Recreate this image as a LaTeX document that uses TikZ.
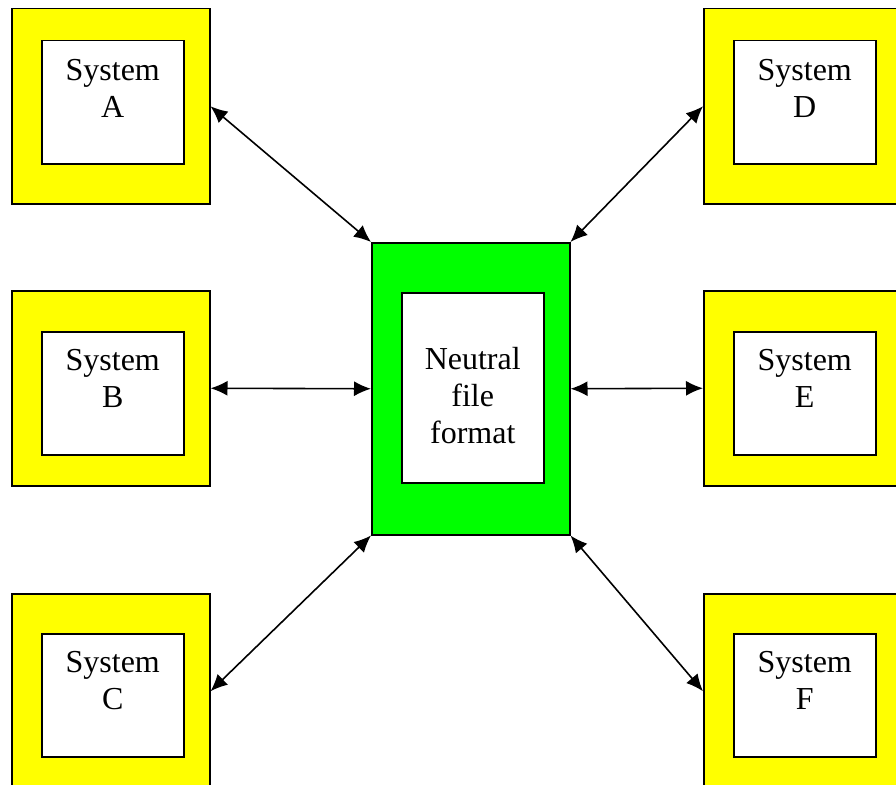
\documentclass[tikz,border=0pt]{standalone}
\usepackage{fontspec}
\setmainfont{Liberation Serif}
\usetikzlibrary{positioning,arrows.meta}
\definecolor{sysyellow}{RGB}{255,255,0}
\definecolor{hubgreen}{RGB}{0,255,0}

\begin{document}
\begin{tikzpicture}[
		x=1pt, y=-1pt,
		outerbox/.style={draw, line width=1.5pt, fill=sysyellow, minimum width=198pt, minimum height=195pt, inner sep=0pt, anchor=north west},
		innerbox/.style={draw, line width=1.5pt, fill=white, minimum width=142pt, minimum height=123pt, inner sep=0pt},
		hubbox/.style={draw, line width=1.5pt, fill=hubgreen, minimum width=198pt, minimum height=292pt, inner sep=0pt, anchor=north west},
		caption/.style={inner sep=0pt, align=center, font=\fontsize{32pt}{37pt}\selectfont},
		arrow/.style={{Latex[length=17pt,width=15pt]}-{Latex[length=17pt,width=15pt]}, line width=1.6pt}
		]
		
		\clip (0,0) rectangle (896,784);
		
		% left column
		\node[outerbox] (sysA) at (11,8) {};
		\node[innerbox, below right=32pt and 30pt of sysA.north west] (sysAin) {};
		\node[caption, below=19pt of sysAin.north] (txtA) {System\\A};
		
		\node[outerbox] (sysB) at (11,290) {};
		\node[innerbox, below right=41pt and 30pt of sysB.north west] (sysBin) {};
		\node[caption, below=18pt of sysBin.north] (txtB) {System\\B};
		
		\node[outerbox] (sysC) at (11,593) {};
		\node[innerbox, below right=40pt and 30pt of sysC.north west] (sysCin) {};
		\node[caption, below=18pt of sysCin.north] (txtC) {System\\C};
		
		% right column
		\node[outerbox] (sysD) at (703,8) {};
		\node[innerbox, below right=32pt and 30pt of sysD.north west] (sysDin) {};
		\node[caption, below=19pt of sysDin.north] (txtD) {System\\D};
		
		\node[outerbox] (sysE) at (703,290) {};
		\node[innerbox, below right=41pt and 30pt of sysE.north west] (sysEin) {};
		\node[caption, below=18pt of sysEin.north] (txtE) {System\\E};
		
		\node[outerbox] (sysF) at (703,593) {};
		\node[innerbox, below right=40pt and 30pt of sysF.north west] (sysFin) {};
		\node[caption, below=18pt of sysFin.north] (txtF) {System\\F};
		
		% neutral format in the middle
		\node[hubbox] (hub) at (371,242) {};
		\node[innerbox, minimum height=190pt, below right=50pt and 30pt of hub.north west] (hubin) {};
		\node[caption, below=55pt of hubin.north] (txthub) {Neutral\\file\\format};
		
		\draw[arrow] (sysA.east) -- (hub.north west);
		\draw[arrow] (sysB.east) -- (hub.west);
		\draw[arrow] (sysC.east) -- (hub.south west);
		\draw[arrow] (sysD.west) -- (hub.north east);
		\draw[arrow] (sysE.west) -- (hub.east);
		\draw[arrow] (sysF.west) -- (hub.south east);
		
	\end{tikzpicture}
\end{document}
